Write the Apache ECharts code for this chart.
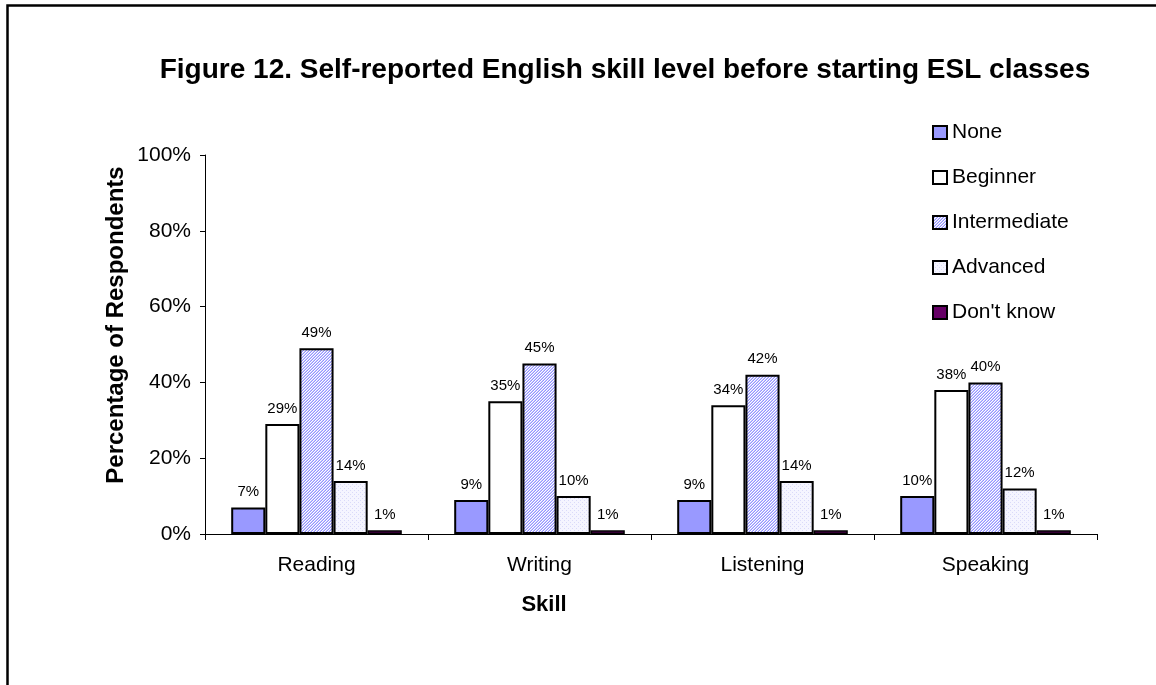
<!DOCTYPE html>
<html>
<head>
<meta charset="utf-8">
<script src="https://cdn.jsdelivr.net/npm/echarts@6/dist/echarts.min.js"></script>
<style>
  html, body { margin: 0; padding: 0; background: #fff; }
  #chart { width: 1156px; height: 685px; }
</style>
</head>
<body>
<div id="chart"></div>
<script>
// Skills surveyed and self-reported level shares (percent)
const skills = ['Reading', 'Writing', 'Listening', 'Speaking'];
const levels = ['None', 'Beginner', 'Intermediate', 'Advanced', "Don't know"];
const none = [7, 9, 9, 10];
const beginner = [29, 35, 34, 38];
const intermediate = [49, 45, 42, 40];
const advanced = [14, 10, 14, 12];
const dontKnow = [1, 1, 1, 1];
const yTicks = [0, 20, 40, 60, 80, 100];

// Fine diagonal hatch fill
function hatch() {
  const c = document.createElement('canvas');
  c.width = 3; c.height = 3;
  const g = c.getContext('2d');
  g.fillStyle = '#ffffff';
  g.fillRect(0, 0, 3, 3);
  for (let i = 0; i < 3; i++) {
    g.fillStyle = '#9494ff';
    g.fillRect(2 - i, i, 1, 1);
    g.fillStyle = '#c8c8ff';
    g.fillRect((4 - i) % 3, i, 1, 1);
  }
  return { image: c, repeat: 'repeat' };
}
// Light dotted fill
function dots() {
  const c = document.createElement('canvas');
  c.width = 4; c.height = 4;
  const g = c.getContext('2d');
  g.fillStyle = '#f5f5ff';
  g.fillRect(0, 0, 4, 4);
  g.fillStyle = '#dadaf9';
  g.fillRect(0, 0, 1, 1);
  g.fillRect(2, 2, 1, 1);
  return { image: c, repeat: 'repeat' };
}

const fills = ['#9999ff', '#ffffff', hatch(), dots(), '#660066'];
const borders = [2, 2, 2, 2, 1.5];
const values = [none, beginner, intermediate, advanced, dontKnow];

const chart = echarts.init(document.getElementById('chart'));
const font = 'Liberation Sans, Arial, sans-serif';

chart.setOption({
  backgroundColor: '#ffffff',
  animation: false,
  title: {
    text: 'Figure 12. Self-reported English skill level before starting ESL classes',
    left: 620, top: 51, textAlign: 'center',
    textStyle: { fontFamily: font, fontSize: 28, fontWeight: 'bold', color: '#000' }
  },
  graphic: [
    {
      type: 'rect', left: 5, top: 3, silent: true,
      shape: { width: 1200, height: 720 },
      style: { fill: 'none', stroke: '#000', lineWidth: 2.5 }
    },
    {
      type: 'text', x: 116, y: 325, rotation: Math.PI / 2, silent: true,
      style: {
        text: 'Percentage of Respondents', fill: '#000',
        font: 'bold 24px ' + font, align: 'center', verticalAlign: 'middle'
      }
    },
    {
      type: 'text', x: 544, y: 605, silent: true,
      style: {
        text: 'Skill', fill: '#000',
        font: 'bold 22px ' + font, align: 'center', verticalAlign: 'middle'
      }
    }
  ],
  legend: {
    orient: 'vertical', left: 927, top: 117,
    itemWidth: 14, itemHeight: 13, itemGap: 24, icon: 'rect',
    textStyle: { fontFamily: font, fontSize: 21, color: '#000' },
    data: levels
  },
  grid: { left: 205, right: 59, top: 155, bottom: 151, containLabel: false },
  xAxis: {
    type: 'category', data: skills,
    axisLine: { lineStyle: { color: '#000', width: 1 } },
    axisTick: { show: true, length: 6, lineStyle: { color: '#000' } },
    axisLabel: { fontFamily: font, fontSize: 21, color: '#000', margin: 21 }
  },
  yAxis: {
    type: 'value', min: yTicks[0], max: yTicks[yTicks.length - 1], interval: 20,
    axisLine: { show: true, lineStyle: { color: '#000', width: 1 } },
    axisTick: { show: true, length: 5, lineStyle: { color: '#000' } },
    splitLine: { show: false },
    axisLabel: { fontFamily: font, fontSize: 21, color: '#000', margin: 14, formatter: '{value}%' }
  },
  series: levels.map((name, i) => ({
    name, type: 'bar', data: values[i],
    barGap: '0%', barCategoryGap: '23.5%',
    itemStyle: { color: fills[i], borderColor: '#000', borderWidth: borders[i] },
    label: {
      show: true, position: 'top', distance: 8, formatter: '{c}%',
      fontFamily: font, fontSize: 15, color: '#000'
    }
  }))
});
</script>
</body>
</html>
